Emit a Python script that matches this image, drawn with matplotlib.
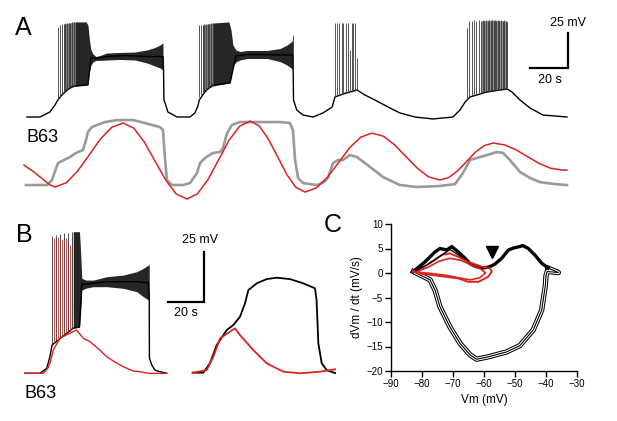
import numpy as np
import matplotlib
matplotlib.use('Agg')
import matplotlib.pyplot as plt

plt.rcParams['font.family'] = ['Liberation Sans', 'DejaVu Sans']

# ---------------- Panel A : membrane potential (s, mV) ----------------
a_black_t = [0.5, 7.4, 12.6, 15.3, 16.7, 18.9, 21.6, 24.2, 25.8, 32.6, 34.2, 36.3, 42.6, 52.1, 63.7,
             70.5, 72.1, 72.4, 72.6, 73.2, 74.7, 79.5, 86.3, 88.9, 90.5, 91.2, 94.7, 98.4, 107.4, 110.5,
             116.3, 126.8, 133.7, 140.5, 140.8, 142.5, 145.8, 151.1, 156.3, 161.1, 162.6, 168.4, 174.2,
             178.4, 183.7, 191.6, 196.8, 204.7, 214.2, 224.7, 228.4, 231.1, 233.7, 242.6, 253.2, 255.8,
             260.0, 265.3, 272.1, 284.7]
a_black_v = [-60, -60, -56.4, -51.4, -47.9, -44.3, -40.7, -38.4, -37.9, -37.1, -17.5, -18.2, -16.8, -16.1,
             -16.8, -16.8, -16.8, -26.4, -47.9, -50.0, -56.4, -60, -60, -57.1, -52.1, -47.9, -41.1, -37.1,
             -35.7, -16.4, -15.4, -15.4, -15.7, -15.7, -47.9, -55.0, -58.6, -60, -57.1, -52.9, -45.7, -42.9,
             -40.7, -44.3, -47.9, -53.6, -57.1, -60, -61.4, -60, -55, -49.3, -45.7, -42.1, -40, -42.1,
             -47.9, -53.6, -58.6, -60]

# plateau oscillation envelopes (first two bursts)
band1_t = [25.8, 31.6, 32.6, 33.4, 34.2, 35.3, 36.8, 38.9, 42.6, 49.5, 57.4, 63.7, 67.9, 70.5, 72.1]
band1_top = [7.9, 7.9, 5.7, -5.0, -12.1, -15.0, -16.8, -16.1, -14.3, -13.9, -13.6, -12.1, -10.4, -8.6, -7.1]
band1_bot = [-37.9, -37.1, -36.4, -27.9, -22.9, -20.7, -19.6, -19.6, -19.3, -18.9, -19.3, -21.4, -23.6, -25.0, -26.4]
band2_t = [98.4, 106.8, 107.9, 108.9, 110.5, 112.6, 116.3, 126.8, 133.7, 137.4, 139.5, 140.5]
band2_top = [7.1, 7.9, 2.1, -8.6, -12.1, -13.2, -12.5, -12.5, -11.1, -8.6, -6.4, -5.0]
band2_bot = [-37.9, -35.7, -32.1, -23.6, -20.7, -19.3, -18.2, -18.2, -20.4, -22.9, -25.0, -26.4]

# dense spiking (grey haze where spikes merge)
haze1_t = [19.8, 22.5, 25.8]
haze1_top = [6.4, 7.1, 7.9]
haze1_bot = [-43.1, -40.0, -37.9]
haze2_t = [93.0, 95.6, 98.4]
haze2_top = [5.7, 6.4, 7.1]
haze2_bot = [-43.2, -40.0, -37.9]
haze4_t = [239.5, 245.3, 253.2]
haze4_top = [8.6, 9.3, 8.6]
haze4_bot = [-42.9, -41.3, -40.0]

# spikes: time, trough, peak
a_spike_t = [16.7, 17.9, 18.9, 19.8, 20.7, 21.6, 22.5, 23.3, 24.2, 25.1,
             91.2, 92.1, 93.0, 93.8, 94.7, 95.6, 96.5, 97.4, 98.3,
             140.7,
             162.6, 163.8, 164.9, 166.2, 167.0, 168.4, 169.3, 170.5, 171.4, 172.3, 173.2, 174.4,
             231.9, 233.2, 234.5, 235.8, 237.1, 238.4, 239.5, 240.5, 241.3, 242.1, 242.9, 243.7,
             244.5, 245.3, 246.1, 246.8, 247.6, 248.4, 249.2, 250.0, 250.8, 251.6, 252.4, 253.2]
a_spike_base = [-47.9, -45.9, -44.3, -43.1, -41.9, -40.7, -40.0, -39.1, -38.4, -37.9,
                -45.7, -44.3, -43.2, -42.1, -41.1, -40.0, -39.3, -38.6, -37.9,
                -26.4,
                -45.7, -45.0, -44.3, -43.6, -43.6, -42.9, -42.9, -42.1, -42.1, -41.4, -41.4, -40.7,
                -46.4, -45.7, -45.0, -44.3, -43.8, -43.2, -42.9, -42.5, -42.3, -42.1, -41.9, -41.7,
                -41.5, -41.3, -41.1, -40.9, -40.7, -40.6, -40.5, -40.4, -40.3, -40.2, -40.1, -40.0]
a_spike_peak = [4.3, 5.7, 6.4, 6.4, 7.1, 7.1, 7.1, 7.1, 7.9, 7.9,
                5.7, 5.7, 5.7, 6.4, 6.4, 6.4, 6.4, 7.1, 7.1,
                -1.4,
                7.1, 7.1, 7.1, 7.1, 7.1, 7.1, 7.1, -12.1, 7.1, 7.1, 7.1, -17.9,
                3.6, 8.6, 8.6, 9.3, 8.6, 9.3, 8.6, 9.3, 8.6, 9.3, 8.6, 9.3,
                8.6, 9.3, 8.6, 9.3, 8.6, 9.3, 8.6, 9.3, 8.6, 9.3, 8.6, 7.9]

# B63 recording (gray) and sinusoidal command (red)
b63_t = [0, 11.1, 13.7, 16.8, 20.0, 23.2, 26.3, 30.0, 31.6, 32.6, 34.7, 37.4, 41.6, 47.9, 56.3,
         62.6, 70.5, 72.1, 73.2, 74.2, 76.8, 82.6, 86.3, 90.0, 91.6, 94.2, 98.4, 102.1, 103.7, 105.8,
         108.4, 112.6, 123.2, 133.7, 138.9, 140.5, 141.6, 143.2, 145.8, 153.2, 156.8, 158.9, 161.6,
         164.2, 166.8, 170.5, 174.2, 181.1, 187.9, 196.8, 205.8, 217.9, 225.8, 230.0, 233.7, 238.9,
         242.6, 247.9, 251.1, 254.7, 260.0, 265.3, 270.5, 278.4, 284.7]
b63_v = [-60, -60, -56.4, -44.3, -42.1, -40.0, -37.1, -35.0, -27.9, -22.1, -18.6, -17.1, -15.0, -13.6,
         -13.6, -15.7, -18.6, -20.7, -42.1, -56.4, -60, -60, -58.6, -51.4, -44.3, -40.7, -37.1, -36.4,
         -33.6, -22.9, -17.1, -15.0, -15.0, -15.0, -15.7, -20.7, -42.1, -55.0, -58.6, -60, -57.9, -55.0,
         -44.3, -42.1, -42.1, -38.6, -40.0, -47.1, -54.3, -60, -61.4, -60.7, -59.3, -51.4, -42.1, -40.0,
         -38.6, -36.4, -37.1, -42.1, -50.7, -55.0, -57.9, -59.3, -60]
sine_t = [-1.05, 4.0, 9.0, 12.5, 15.3, 21.3, 27.2, 33.2, 39.2, 45.1, 51.1, 56.7, 62.3, 67.9, 73.5,
          79.1, 84.7, 90.2, 95.8, 101.3, 106.8, 112.4, 117.9, 122.7, 127.5, 132.4, 137.2, 142.0, 146.8,
          152.7, 158.6, 164.5, 170.3, 176.2, 182.1, 188.1, 194.0, 200.0, 206.0, 211.9, 217.9, 222.6,
          227.2, 231.9, 236.5, 241.2, 245.8, 251.9, 257.9, 264.0, 270.0, 276.1, 282.1, 284.7]
sine_v = [-45.7, -50.5, -56.0, -59.8, -61.4, -58.3, -50.0, -38.6, -27.1, -18.8, -15.7, -19.3, -29.3,
          -42.9, -56.4, -66.4, -70.0, -66.3, -56.1, -42.2, -28.2, -18.0, -14.3, -17.7, -27.0, -39.7,
          -52.3, -61.6, -65.0, -62.2, -54.5, -44.0, -33.4, -25.8, -22.9, -25.1, -31.3, -39.7, -48.0,
          -54.2, -56.4, -54.6, -49.8, -43.2, -36.6, -31.8, -30.0, -31.3, -34.8, -39.7, -44.5, -48.0,
          -49.3, -49.3]
b63_shift = -48.6   # vertical offset of the lower traces

# ---------------- Panel B ----------------
bl_black_t = [0, 8.4, 12.2, 14.0, 15.2, 27.1, 30.6, 31.9, 34.3, 38.4, 45.9, 55.2, 62.8, 66.5, 69.3,
              69.8, 69.9, 71.2, 73.0, 75.8, 79.6]
bl_black_v = [-60, -60, -57.5, -51.7, -45.9, -37.4, -36.9, -15.4, -15.4, -15.0, -14.2, -14.2, -14.2,
              -14.6, -14.6, -23.3, -52.4, -55.8, -58.4, -59.2, -60]
bl_band_t = [27.1, 30.6, 31.2, 31.9, 34.3, 38.4, 45.9, 55.2, 62.8, 66.5, 69.3, 69.8]
bl_band_top = [10.8, 10.8, 1.7, -12.5, -13.4, -13.4, -11.7, -10.9, -9.2, -7.5, -5.9, -5.4]
bl_band_bot = [-37.4, -36.9, -30.8, -18.4, -17.4, -16.7, -16.7, -17.5, -19.2, -21.7, -23.3, -23.8]
bl_spk_t = [15.0, 17.4, 19.7, 21.9, 24.2, 26.4]
bl_spk_base = [-45.9, -43.9, -41.9, -40.4, -38.9, -37.9]
bl_spk_peak = [8.7, 9.2, 9.7, 10.2, 10.2, 10.7]
bl_red_t = [0, 10.3, 12.9, 14.0, 15.9, 19.7, 25.3, 29.0, 32.8, 36.5, 42.1, 45.9, 50.6, 55.2, 60.8,
            64.6, 70.2, 79.6]
bl_red_v = [-60, -60, -57.4, -55, -48.4, -42.4, -39.9, -38.4, -42.5, -44.2, -48.4, -51.7, -54.4,
            -56.7, -58.9, -59.2, -60.1, -60]
bl_red_spk_t = [16.3, 18.5, 20.8, 23.0, 25.3]
bl_red_spk_base = [-44.4, -42.9, -41.4, -39.9, -38.9]
bl_red_spk_peak = [7.7, 8.2, 6.7, 7.7, 4.2]

br_black_t = [94.2, 100.2, 103.9, 107.7, 113.3, 117.0, 120.8, 123.6, 125.5, 130.2, 135.8, 141.4,
              148.9, 156.3, 162.9, 163.8, 164.8, 166.7, 169.5, 174.2]
br_black_v = [-59.7, -59.7, -55, -45.9, -38.4, -35.9, -31.7, -25, -18.4, -15, -12.9, -12.2, -12.9,
              -15, -17.5, -23.3, -45, -55, -58.4, -59.9]
br_red_t = [94.2, 102.1, 105.8, 109.6, 115.2, 118.0, 120.8, 128.3, 135.8, 145.1, 154.5, 165.7, 174.2]
br_red_v = [-59.7, -58.4, -51.7, -42.5, -39.2, -37.5, -40.9, -48.4, -55, -59.2, -60, -59.2, -58]

# ---------------- Panel C : phase plot ----------------
c_low_vm = [-82.8, -80.6, -77.4, -75.8, -74.2, -71.0, -67.7, -64.5, -62.4, -58.6, -52.7, -48.4,
            -44.1, -41.4, -40.2, -40.0, -39.6, -36.0, -39.3]
c_low_dv = [0.3, -0.4, -1.4, -3.5, -6.9, -11.0, -14.4, -16.7, -17.6, -17.1, -16.1, -14.8, -11.6,
            -7.6, -2.5, -0.5, 0.3, 0.1, 1.0]
c_up_vm = [-39.3, -41.4, -43.5, -45.7, -47.5, -48.4, -50.5, -52.1, -54.3, -56.5, -58.5, -60.7, -63.0,
           -64.5, -66.1, -68.3, -70.4, -72.0, -74.2, -75.8, -79.0, -82.8]
c_up_dv = [1.0, 2.0, 3.6, 5.0, 5.6, 5.4, 5.1, 4.7, 3.0, 1.8, 1.2, 1.0, 1.4, 1.9, 3.0, 4.3, 5.4, 4.7,
           5.0, 4.3, 2.3, 0.3]
c_up2_vm = [-82.0, -78.0, -74.0, -71.0, -68.0, -65.0]
c_up2_dv = [0.5, 1.8, 3.5, 4.8, 3.6, 2.5]
c_red1_vm = [-82.8, -80.1, -75.8, -73.6, -71.0, -68.3, -65.1, -60.8, -58.1, -57.5, -58.6, -61.8,
             -65.1, -68.3, -72.6, -76.9, -81.2, -82.8]
c_red1_dv = [0.3, 1.0, 2.7, 3.7, 4.0, 3.3, 2.3, 1.3, 1.0, 0.3, -0.75, -1.8, -1.8, -1.1, -0.75, -0.4,
             -0.06, 0.3]
c_red2_vm = [-82.0, -78.0, -74.5, -71.0, -67.5, -64.0, -61.0, -59.5, -61.5, -64.5, -68.0, -72.0,
             -77.0, -82.0]
c_red2_dv = [0.2, 1.2, 2.4, 3.0, 2.6, 1.6, 0.8, 0.0, -1.0, -1.4, -1.0, -0.5, -0.1, 0.2]
arrow_vm, arrow_dv = -57.3, 4.3

RED = '#d9241f'
GRAY = '#9a9a9a'
W, H = 617, 421

fig = plt.figure(figsize=(W / 100, H / 100), dpi=100)

# panel A, axes spans the top of the figure; 1.9 px/s, 1.4 px/mV
axA = fig.add_axes([0, (H - 210) / H, 1, 210 / H])
axA.set_xlim(-13.68, 311.05)
axA.set_ylim(-126.43, 23.57)
axA.axis('off')
axA.plot(b63_t, np.array(b63_v) + b63_shift, color=GRAY, lw=1.9, solid_joinstyle='round')
axA.plot(sine_t, np.array(sine_v) + b63_shift, color=RED, lw=1.1)
axA.plot(a_black_t, a_black_v, color='black', lw=1.0)
axA.fill_between(haze1_t, haze1_bot, haze1_top, color='#808080', lw=0)
axA.fill_between(haze2_t, haze2_bot, haze2_top, color='#808080', lw=0)
axA.fill_between(haze4_t, haze4_bot, haze4_top, color='#909090', lw=0)
axA.fill_between(band1_t, band1_bot, band1_top, color='#262626', lw=0)
axA.fill_between(band2_t, band2_bot, band2_top, color='#262626', lw=0)
axA.vlines(a_spike_t, a_spike_base, a_spike_peak, colors='#383838', lw=0.6)
# scale bar
axA.plot([265.3, 285.3, 285.3], [-25, -25, 0], color='black', lw=1.6, solid_joinstyle='miter')
axA.text(294.7, 7.1, '25 mV', ha='right', va='center', fontsize=9)
axA.text(275.8, -33.6, '20 s', ha='center', va='center', fontsize=9)

# panel B; 1.78 px/s, 2 px/mV
axB = fig.add_axes([0, 0, 340 / W, 211 / H])
axB.set_xlim(-14.04, 176.97)
axB.set_ylim(-83.85, 21.65)
axB.axis('off')
axB.plot(bl_black_t, bl_black_v, color='black', lw=1.0)
axB.fill_between(bl_band_t, bl_band_bot, bl_band_top, color='#262626', lw=0)
axB.vlines(bl_spk_t, bl_spk_base, bl_spk_peak, colors='#303030', lw=0.6)
axB.vlines(bl_red_spk_t, bl_red_spk_base, bl_red_spk_peak, colors=RED, lw=0.6)
axB.plot(bl_red_t, bl_red_v, color=RED, lw=1.0)
axB.plot(br_black_t, br_black_v, color='black', lw=1.3)
axB.plot(br_red_t, br_red_v, color=RED, lw=1.3)
axB.plot([80.6, 100.6, 100.6], [-24.2, -24.2, 0.8], color='black', lw=1.6, solid_joinstyle='miter')
axB.text(98.3, 6.65, '25 mV', ha='center', va='center', fontsize=9)
axB.text(90.4, -29.85, '20 s', ha='center', va='center', fontsize=9)

# panel C
axC = fig.add_axes([391 / W, (H - 371) / H, 186 / W, 147 / H])
axC.plot(c_low_vm, c_low_dv, color='black', lw=3.8, solid_joinstyle='round')
axC.plot(c_low_vm, c_low_dv, color='white', lw=2.3, solid_joinstyle='round')
axC.plot(c_low_vm, c_low_dv, color='black', lw=0.8, solid_joinstyle='round')
axC.plot(c_up_vm, c_up_dv, color='black', lw=2.4, solid_joinstyle='round')
axC.plot(c_red1_vm, c_red1_dv, color=RED, lw=1.4)
axC.plot(c_red2_vm, c_red2_dv, color=RED, lw=1.2)
axC.plot(c_up2_vm, c_up2_dv, color='black', lw=1.0)
axC.plot(arrow_vm, arrow_dv, marker='v', color='black', markersize=9, ls='none')
axC.set_xlim(-90, -30)
axC.set_ylim(-20, 10)
axC.set_xticks(range(-90, -29, 10))
axC.set_yticks(range(-20, 11, 5))
for s in ['top', 'right']:
    axC.spines[s].set_visible(False)
for s in ['left', 'bottom']:
    axC.spines[s].set_linewidth(1.0)
axC.tick_params(direction='out', length=4, width=1, labelsize=7, pad=2)
axC.set_xlabel('Vm (mV)', fontsize=8.5, labelpad=3)
axC.set_ylabel('dVm / dt (mV/s)', fontsize=8.5, labelpad=2)

# panel letters
fig.text(15 / W, 1 - 35 / H, 'A', fontsize=18, va='baseline', ha='left')
fig.text(16 / W, 1 - 242 / H, 'B', fontsize=18, va='baseline', ha='left')
fig.text(324 / W, 1 - 232 / H, 'C', fontsize=18, va='baseline', ha='left')
fig.text(26 / W, 1 - 142 / H, 'B63', fontsize=13, va='baseline', ha='left')
fig.text(24 / W, 1 - 398 / H, 'B63', fontsize=13, va='baseline', ha='left')

fig.savefig('out.png', dpi=100)
